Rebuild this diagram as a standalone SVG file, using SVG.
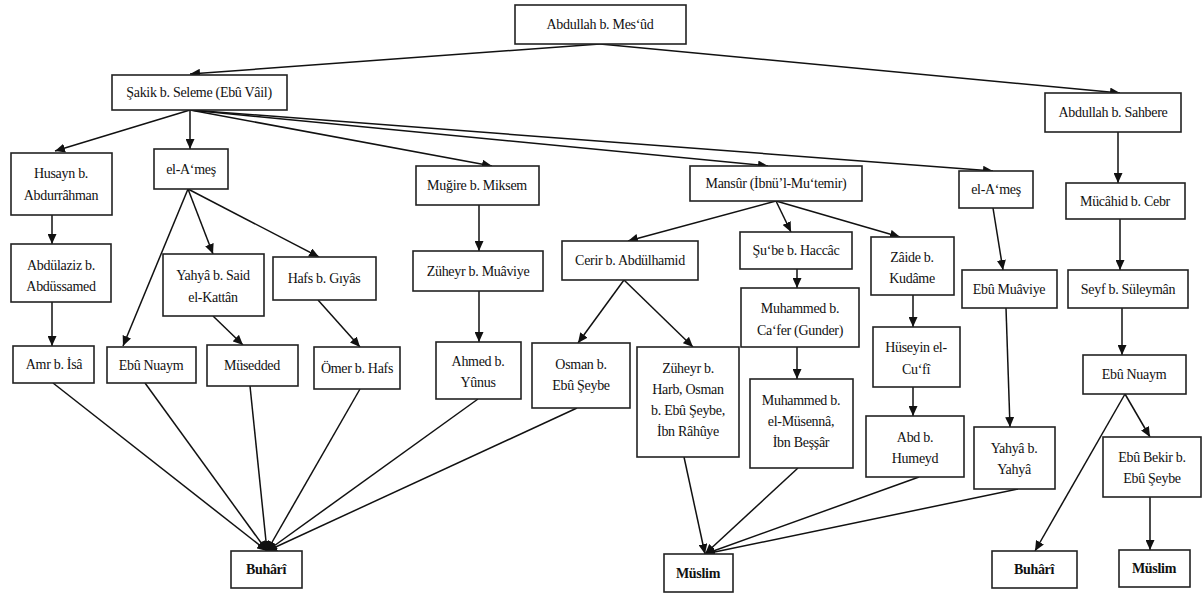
<svg xmlns="http://www.w3.org/2000/svg" width="1203" height="594" viewBox="0 0 1203 594">
<style>
.b{fill:#fff;stroke:#222;stroke-width:1.6}
.t{font-family:"Liberation Serif","Times New Roman",serif;font-size:14px;fill:#111;text-anchor:middle;letter-spacing:-0.3px}
.bt{font-weight:bold}
.c line{stroke:#111;stroke-width:1.5}
.c line.a{marker-end:url(#ah)}
</style>
<defs>
<marker id="ah" markerUnits="userSpaceOnUse" markerWidth="11" markerHeight="9" refX="10" refY="4.5" orient="auto">
<path d="M0,0 L10,4.5 L0,9 z" fill="#111"/>
</marker>
</defs>
<rect width="1203" height="594" fill="#fff"/>
<g class="c" id="connectors">
<line class="a" x1="600" y1="44" x2="190" y2="74"/>
<line class="a" x1="600" y1="44" x2="1120" y2="93"/>
<line class="a" x1="190" y1="110" x2="55" y2="151"/>
<line class="a" x1="190" y1="110" x2="190" y2="149"/>
<line class="a" x1="190" y1="110" x2="492" y2="166"/>
<line class="a" x1="190" y1="110" x2="768" y2="166"/>
<line class="a" x1="190" y1="110" x2="993" y2="171"/>
<line class="a" x1="52" y1="215" x2="52" y2="244"/>
<line class="a" x1="52" y1="302" x2="52" y2="346"/>
<line class="a" x1="188" y1="189" x2="123" y2="346"/>
<line class="a" x1="188" y1="189" x2="213" y2="254"/>
<line class="a" x1="188" y1="189" x2="319" y2="257"/>
<line class="a" x1="213" y1="316" x2="243" y2="345"/>
<line class="a" x1="318" y1="300" x2="360" y2="347"/>
<line class="a" x1="479" y1="205" x2="479" y2="251"/>
<line class="a" x1="479" y1="291" x2="479" y2="342"/>
<line class="a" x1="776" y1="201" x2="628" y2="241"/>
<line class="a" x1="776" y1="201" x2="791" y2="232"/>
<line class="a" x1="776" y1="201" x2="900" y2="237"/>
<line class="a" x1="624" y1="280" x2="578" y2="343"/>
<line class="a" x1="624" y1="280" x2="693" y2="347"/>
<line class="a" x1="797" y1="269" x2="797" y2="288"/>
<line class="a" x1="797" y1="347" x2="797" y2="379"/>
<line class="a" x1="913" y1="295" x2="913" y2="327"/>
<line class="a" x1="913" y1="387" x2="913" y2="416"/>
<line class="a" x1="993" y1="208" x2="1003" y2="270"/>
<line class="a" x1="1006" y1="308" x2="1010" y2="427"/>
<line class="a" x1="1118" y1="132" x2="1118" y2="183"/>
<line class="a" x1="1120" y1="219" x2="1120" y2="270"/>
<line class="a" x1="1122" y1="308" x2="1122" y2="355"/>
<line class="a" x1="1125" y1="394" x2="1150" y2="437"/>
<line class="a" x1="1125" y1="394" x2="1035" y2="551"/>
<line class="a" x1="1150" y1="497" x2="1150" y2="550"/>
<line class="a" x1="53" y1="383" x2="267" y2="551"/>
<line class="a" x1="145" y1="383" x2="267" y2="551"/>
<line class="a" x1="250" y1="386" x2="267" y2="551"/>
<line class="a" x1="360" y1="389" x2="267" y2="551"/>
<line class="a" x1="478" y1="399" x2="267" y2="551"/>
<line class="a" x1="577" y1="408" x2="267" y2="551"/>
<line class="a" x1="684" y1="457" x2="705" y2="554"/>
<line class="a" x1="798" y1="468" x2="705" y2="554"/>
<line class="a" x1="919" y1="477" x2="705" y2="554"/>
<line class="a" x1="1018" y1="489" x2="705" y2="554"/>
</g>
<g id="n-mesud"><rect class="b" x="515" y="5" width="171" height="39"/><text class="t" x="600" y="29">Abdullah b. Mes‘ûd</text></g>
<g id="n-sakik"><rect class="b" x="112" y="75" width="175" height="35"/><text class="t" x="199" y="97">Şakik b. Seleme (Ebû Vâil)</text></g>
<g id="n-sahbere"><rect class="b" x="1045" y="93" width="136" height="39"/><text class="t" x="1113" y="117">Abdullah b. Sahbere</text></g>
<g id="n-husayn"><rect class="b" x="11" y="153" width="101" height="62"/><text class="t" x="61" y="178">Husayn b.</text><text class="t" x="61" y="200">Abdurrâhman</text></g>
<g id="n-ames1"><rect class="b" x="154" y="149" width="74" height="40"/><text class="t" x="191" y="174">el-A‘meş</text></g>
<g id="n-mugire"><rect class="b" x="416" y="166" width="123" height="39"/><text class="t" x="477" y="190">Muğire b. Miksem</text></g>
<g id="n-mansur"><rect class="b" x="690" y="166" width="172" height="35"/><text class="t" x="776" y="188">Mansûr (İbnü’l-Mu‘temir)</text></g>
<g id="n-ames2"><rect class="b" x="959" y="171" width="74" height="37"/><text class="t" x="996" y="194">el-A‘meş</text></g>
<g id="n-mucahid"><rect class="b" x="1066" y="183" width="119" height="36"/><text class="t" x="1125" y="206">Mücâhid b. Cebr</text></g>
<g id="n-abdulaziz"><rect class="b" x="11" y="244" width="100" height="58"/><text class="t" x="61" y="270">Abdülaziz b.</text><text class="t" x="61" y="291">Abdüssamed</text></g>
<g id="n-yahya1"><rect class="b" x="163" y="254" width="101" height="62"/><text class="t" x="213" y="280">Yahyâ b. Said</text><text class="t" x="213" y="302">el-Kattân</text></g>
<g id="n-hafs"><rect class="b" x="273" y="257" width="103" height="43"/><text class="t" x="324" y="283">Hafs b. Gıyâs</text></g>
<g id="n-zuheyr1"><rect class="b" x="413" y="251" width="130" height="40"/><text class="t" x="478" y="276">Züheyr b. Muâviye</text></g>
<g id="n-cerir"><rect class="b" x="562" y="241" width="136" height="39"/><text class="t" x="630" y="265">Cerir b. Abdülhamid</text></g>
<g id="n-sube"><rect class="b" x="740" y="232" width="112" height="37"/><text class="t" x="796" y="255">Şu‘be b. Haccâc</text></g>
<g id="n-zaide"><rect class="b" x="871" y="237" width="83" height="58"/><text class="t" x="912" y="262">Zâide b.</text><text class="t" x="912" y="283">Kudâme</text></g>
<g id="n-muaviye"><rect class="b" x="962" y="270" width="95" height="38"/><text class="t" x="1009" y="294">Ebû Muâviye</text></g>
<g id="n-seyf"><rect class="b" x="1068" y="270" width="120" height="38"/><text class="t" x="1128" y="294">Seyf b. Süleymân</text></g>
<g id="n-gunder"><rect class="b" x="741" y="288" width="118" height="59"/><text class="t" x="800" y="313">Muhammed b.</text><text class="t" x="800" y="335">Ca‘fer (Gunder)</text></g>
<g id="n-huseyin"><rect class="b" x="873" y="327" width="87" height="60"/><text class="t" x="916" y="352">Hüseyin el-</text><text class="t" x="916" y="374">Cu‘fî</text></g>
<g id="n-amr"><rect class="b" x="13" y="346" width="81" height="37"/><text class="t" x="54" y="369">Amr b. İsâ</text></g>
<g id="n-nuaym1"><rect class="b" x="107" y="347" width="89" height="36"/><text class="t" x="151" y="370">Ebû Nuaym</text></g>
<g id="n-musedded"><rect class="b" x="207" y="345" width="91" height="41"/><text class="t" x="252" y="370">Müsedded</text></g>
<g id="n-omer"><rect class="b" x="314" y="347" width="86" height="42"/><text class="t" x="357" y="373">Ömer b. Hafs</text></g>
<g id="n-ahmed"><rect class="b" x="436" y="342" width="85" height="57"/><text class="t" x="478" y="366">Ahmed b.</text><text class="t" x="478" y="387">Yûnus</text></g>
<g id="n-osman"><rect class="b" x="532" y="343" width="98" height="65"/><text class="t" x="581" y="369">Osman b.</text><text class="t" x="581" y="390">Ebû Şeybe</text></g>
<g id="n-zuheyr2"><rect class="b" x="637" y="347" width="102" height="110"/><text class="t" x="688" y="373">Züheyr b.</text><text class="t" x="688" y="394">Harb, Osman</text><text class="t" x="688" y="415">b. Ebû Şeybe,</text><text class="t" x="688" y="436">İbn Râhûye</text></g>
<g id="n-musenna"><rect class="b" x="750" y="379" width="103" height="89"/><text class="t" x="801" y="405">Muhammed b.</text><text class="t" x="801" y="426">el-Müsennâ,</text><text class="t" x="801" y="447">İbn Beşşâr</text></g>
<g id="n-nuaym2"><rect class="b" x="1083" y="355" width="103" height="39"/><text class="t" x="1134" y="379">Ebû Nuaym</text></g>
<g id="n-abd"><rect class="b" x="866" y="416" width="98" height="61"/><text class="t" x="915" y="442">Abd b.</text><text class="t" x="915" y="463">Humeyd</text></g>
<g id="n-yahya2"><rect class="b" x="974" y="427" width="81" height="62"/><text class="t" x="1014" y="453">Yahyâ b.</text><text class="t" x="1014" y="474">Yahyâ</text></g>
<g id="n-ebubekir"><rect class="b" x="1103" y="437" width="98" height="60"/><text class="t" x="1152" y="462">Ebû Bekir b.</text><text class="t" x="1152" y="483">Ebû Şeybe</text></g>
<g id="n-buhari1"><rect class="b" x="231" y="551" width="71" height="37"/><text class="t bt" x="266" y="574">Buhârî</text></g>
<g id="n-muslim1"><rect class="b" x="664" y="554" width="69" height="38"/><text class="t bt" x="698" y="578">Müslim</text></g>
<g id="n-buhari2"><rect class="b" x="992" y="551" width="85" height="37"/><text class="t bt" x="1034" y="574">Buhârî</text></g>
<g id="n-muslim2"><rect class="b" x="1119" y="550" width="71" height="37"/><text class="t bt" x="1154" y="573">Müslim</text></g>
</svg>
